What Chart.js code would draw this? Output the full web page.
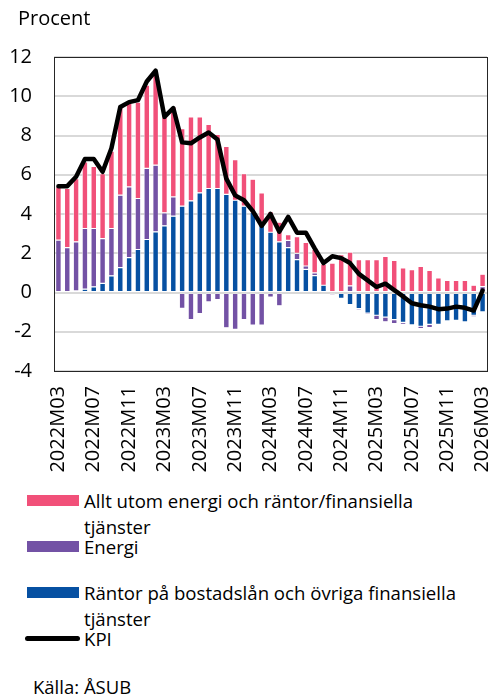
<!DOCTYPE html>
<html><head><meta charset="utf-8">
<script src="https://cdn.jsdelivr.net/npm/chart.js@4.4.1/dist/chart.umd.min.js"></script>
<style>
html,body{margin:0;padding:0;background:#fff;}
body{width:490px;height:697px;position:relative;overflow:hidden;font-family:"Open Sans",sans-serif;color:#000;}
#wrap{position:absolute;left:0;top:0;width:490px;height:480px;}
.t{position:absolute;font-size:18.6px;line-height:26px;white-space:nowrap;}
.sw{position:absolute;left:27px;width:52px;height:11px;}
</style></head><body>
<div id="wrap"><canvas id="c" width="490" height="480"></canvas></div>
<div class="t" style="left:18px;top:3px;font-size:20px;line-height:30px;">Procent</div>
<div class="sw" style="top:495px;background:#f15079;"></div>
<div class="t" style="left:84px;top:488px;">Allt utom energi och räntor/finansiella<br>tjänster</div>
<div class="sw" style="top:541px;background:#7352a5;"></div>
<div class="t" style="left:84px;top:534px;">Energi</div>
<div class="sw" style="top:587px;background:#0650a2;"></div>
<div class="t" style="left:84px;top:580px;">Räntor på bostadslån och övriga finansiella<br>tjänster</div>
<div style="position:absolute;left:25px;top:636px;width:55px;height:5px;border-radius:3px;background:#000;"></div>
<div class="t" style="left:84px;top:626px;">KPI</div>
<div class="t" style="left:33px;top:674px;font-size:18.5px;">Källa: ÅSUB</div>
<script>
const categories = [
 "2022M03","2022M04","2022M05","2022M06","2022M07","2022M08","2022M09","2022M10","2022M11","2022M12",
 "2023M01","2023M02","2023M03","2023M04","2023M05","2023M06","2023M07","2023M08","2023M09","2023M10",
 "2023M11","2023M12","2024M01","2024M02","2024M03","2024M04","2024M05","2024M06","2024M07","2024M08",
 "2024M09","2024M10","2024M11","2024M12","2025M01","2025M02","2025M03","2025M04","2025M05","2025M06",
 "2025M07","2025M08","2025M09","2025M10","2025M11","2025M12","2026M01","2026M02","2026M03"];
const tickLabels = ["2022M03","2022M07","2022M11","2023M03","2023M07","2023M11","2024M03","2024M07","2024M11","2025M03","2025M07","2025M11","2026M03"];
const rantor = [0,0,0.08,0.17,0.29,0.46,0.85,1.27,1.78,2.19,
 2.70,3.09,3.40,3.89,4.40,4.67,5.08,5.30,5.30,5.00,
 4.70,4.40,4.10,3.60,3.07,2.58,2.29,1.68,1.18,0.86,
 0.37,0.05,-0.30,-0.62,-0.82,-1.05,-1.16,-1.25,-1.38,-1.52,
 -1.65,-1.72,-1.62,-1.62,-1.45,-1.42,-1.50,-1.16,-0.99];
const energi = [2.67,2.29,2.50,3.09,2.97,2.29,2.41,3.69,3.60,2.60,
 3.62,3.40,0.66,0.98,-0.81,-1.38,-1.07,-0.48,-0.36,-1.80,
 -1.88,-1.38,-1.66,-1.66,-0.24,-0.68,0.37,0.31,0.17,0.14,
 -0.07,-0.12,0.05,0.34,-0.08,-0.07,-0.22,-0.24,-0.20,-0.10,
 0,-0.12,-0.17,0,0,0,0,-0.08,0.30];
const alltUtom = [2.71,3.01,3.22,3.40,3.17,3.31,3.94,4.49,4.25,4.91,
 4.24,4.66,4.89,4.59,3.95,4.28,3.87,3.27,2.76,2.45,
 2.07,1.66,1.67,1.48,1.05,1.00,0.29,0.86,1.20,1.20,
 1.08,1.45,1.88,1.72,1.67,1.67,1.67,1.84,1.64,1.25,
 1.16,1.33,1.13,0.74,0.62,0.62,0.62,0.37,0.63];
const kpi = [5.42,5.42,5.90,6.80,6.80,6.15,7.35,9.45,9.70,9.80,
 10.75,11.30,8.95,9.40,7.65,7.60,7.90,8.15,7.80,5.80,
 4.95,4.70,4.15,3.40,4.00,3.10,3.85,3.05,3.05,2.25,
 1.50,1.85,1.75,1.50,0.95,0.62,0.28,0.45,0.12,-0.20,
 -0.55,-0.65,-0.72,-0.85,-0.82,-0.72,-0.78,-0.92,0.10];

const FONT = "'Open Sans', sans-serif";
const frame = {
  id:'frame',
  afterDraw(chart){
    const a = chart.chartArea, ctx = chart.ctx;
    ctx.save(); ctx.strokeStyle = '#262626'; ctx.lineWidth = 1;
    ctx.strokeRect(Math.round(a.left)+0.5, Math.round(a.top)+0.5, Math.round(a.right-a.left), Math.round(a.bottom-a.top));
    ctx.restore();
  }
};
const barCommon = {type:'bar', borderColor:'#ffffff', borderWidth:0.6, borderSkipped:false, barPercentage:0.64, categoryPercentage:1, stack:'s', order:0};
new Chart(document.getElementById('c'), {
  data:{
    labels: categories,
    datasets:[
      Object.assign({label:'Räntor på bostadslån och övriga finansiella tjänster', data:rantor, backgroundColor:'#0650a2'}, barCommon),
      Object.assign({label:'Energi', data:energi, backgroundColor:'#7352a5'}, barCommon),
      Object.assign({label:'Allt utom energi och räntor/finansiella tjänster', data:alltUtom, backgroundColor:'#f15079'}, barCommon),
      {type:'line', label:'KPI', data:kpi, borderColor:'#000', borderWidth:4.5, pointRadius:0, tension:0, borderJoinStyle:'round', borderCapStyle:'round', order:-1}
    ]
  },
  options:{
    responsive:false, animation:false,
    layout:{padding:{top:57,right:3,left:0,bottom:0}},
    plugins:{legend:{display:false}, tooltip:{enabled:false}},
    scales:{
      x:{
        stacked:true,
        grid:{display:false, drawTicks:false},
        border:{display:false},
        ticks:{autoSkip:false, maxRotation:90, minRotation:90, padding:15, color:'#000',
          font:{family:FONT, size:20},
          callback:function(v,i){ const l = categories[i]; return tickLabels.includes(l) ? l : ''; }},
        afterFit(s){ s.height = 109; s.paddingLeft = 0; s.paddingRight = 0; }
      },
      y:{
        stacked:true, min:-4, max:12,
        grid:{color:'#d9d9d9', lineWidth:2, drawTicks:false},
        border:{display:false},
        ticks:{stepSize:2, padding:22, color:'#000', font:{family:FONT, size:20}},
        afterFit(s){ s.width = 54; s.paddingTop = 0; s.paddingBottom = 0; }
      }
    }
  },
  plugins:[frame]
});
</script>
</body></html>
